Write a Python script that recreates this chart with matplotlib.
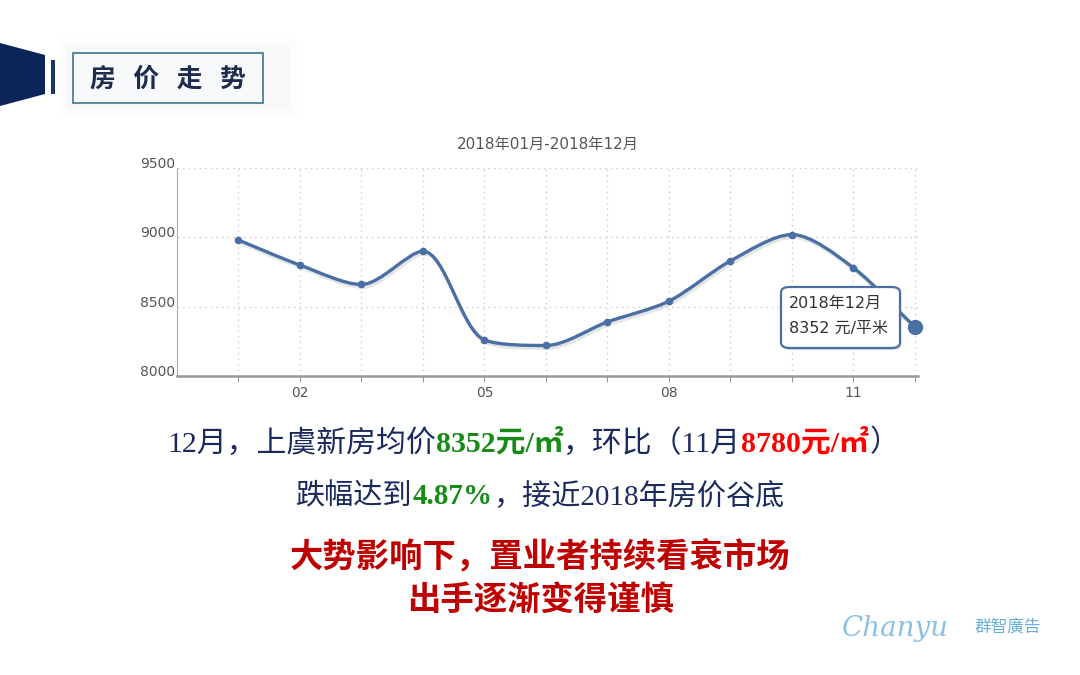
import matplotlib
matplotlib.use('Agg')
import matplotlib.pyplot as plt
import matplotlib.patheffects as pe
from matplotlib.path import Path
from matplotlib.patches import PathPatch, Polygon, Rectangle, FancyBboxPatch
from matplotlib.transforms import ScaledTranslation

plt.rcParams['font.family'] = ['Noto Sans CJK SC', 'DejaVu Sans']

# data
months = [1, 2, 3, 4, 5, 6, 7, 8, 9, 10, 11, 12]
prices = [8980, 8800, 8660, 8900, 8260, 8220, 8390, 8540, 8830, 9020, 8780, 8352]
tick_pos = [2, 5, 8, 11]
tick_labels = ['02', '05', '08', '11']
chart_title = '2018年01月-2018年12月'
tip_lines = ['2018年12月', '8352 元/平米']

W, H = 1080, 675
fig = plt.figure(figsize=(W / 100, H / 100), dpi=100)
fig.patch.set_facecolor('white')


def px(x, y):
    # pixel (top-left origin) -> figure fraction
    return x / W, 1 - y / H


LINE = '#4a6fa5'
NAVY = '#1b2a5c'
SANS = ['DejaVu Sans', 'Noto Sans CJK SC']

# header decoration (faint glow, wedge, bar, framed title)
for pad, col in [(14, '#fcfcfc'), (7, '#f8f8f9')]:
    fig.patches.append(Rectangle(px(73 - pad, 103 + pad), (190 + 2 * pad + 20) / W,
                                 (50 + 2 * pad) / H, transform=fig.transFigure,
                                 facecolor=col, edgecolor='none', zorder=0))
fig.patches.append(Polygon([px(0, 43), px(45, 55), px(45, 94), px(0, 106)], closed=True,
                           transform=fig.transFigure, facecolor='#0b2558', edgecolor='none'))
fig.patches.append(Rectangle(px(51, 94), 4 / W, 34 / H, transform=fig.transFigure,
                             facecolor='#1f3566', edgecolor='none'))
fig.patches.append(Rectangle(px(73, 103), 190 / W, 50 / H, transform=fig.transFigure,
                             facecolor='#f8f9fa', edgecolor='#2b6a86', lw=1.1))
fig.text(*px(168, 79), '房   价   走   势', ha='center', va='center', fontsize=18.5,
         fontweight='bold', color='#1c2b4e')

# chart
ax = fig.add_axes([177 / W, 1 - 376 / H, (918 - 177) / W, (376 - 168) / H])
ax.set_xlim(0, 12.05)
ax.set_ylim(8000, 9500)
ax.set_yticks([8000, 8500, 9000, 9500])
ax.set_xticks(months)
ax.set_xticklabels([tick_labels[tick_pos.index(m)] if m in tick_pos else '' for m in months])
ax.tick_params(axis='x', length=4, color='#999999', labelsize=10, labelcolor='#555555', pad=3)
ax.tick_params(axis='y', length=0, labelsize=10, labelcolor='#555555', pad=1)
for lab in ax.get_xticklabels() + ax.get_yticklabels():
    lab.set_family('DejaVu Sans')
for lab in ax.get_yticklabels():
    lab.set_transform(lab.get_transform() + ScaledTranslation(0, 4 / 72, fig.dpi_scale_trans))
ax.grid(True, linestyle=(0, (1, 3)), color='#c8c8c8', lw=1)
for s in ['top', 'right']:
    ax.spines[s].set_visible(False)
ax.spines['left'].set_color('#aaaaaa')
ax.spines['bottom'].set_color('#999999')
ax.spines['bottom'].set_linewidth(1.8)
ax.set_title(chart_title, fontsize=11, color='#555555', pad=14, family=SANS)

# smooth line through the points, bezier control points built in display space
disp = ax.transData.transform(list(zip(months, prices)))
smooth = 0.3
n = len(disp)
verts = [tuple(disp[0])]
codes = [Path.MOVETO]
cps = []
for i in range(n):
    x, y = disp[i]
    px_, py_ = disp[i - 1] if i > 0 else disp[i]
    nx_, ny_ = disp[i + 1] if i < n - 1 else disp[i]
    vx, vy = nx_ - px_, ny_ - py_
    lp = ((x - px_) ** 2 + (y - py_) ** 2) ** 0.5
    ln = ((nx_ - x) ** 2 + (ny_ - y) ** 2) ** 0.5
    r = ln / (ln + lp) if ln + lp else 0
    c1x = x + vx * smooth * r
    c1y = y + vy * smooth * r
    c1x = min(max(c1x, min(nx_, x)), max(nx_, x))
    c1y = min(max(c1y, min(ny_, y)), max(ny_, y))
    if ln and lp:
        c0x = x - (c1x - x) * lp / ln
        c0y = y - (c1y - y) * lp / ln
    else:
        c0x = x - vx * smooth * (1 - r)
        c0y = y - vy * smooth * (1 - r)
    c0x = min(max(c0x, min(px_, x)), max(px_, x))
    c0y = min(max(c0y, min(py_, y)), max(py_, y))
    if ln and lp:
        c1x = x + (x - c0x) * ln / lp
        c1y = y + (y - c0y) * ln / lp
    cps.append(((c0x, c0y), (c1x, c1y)))
for i in range(n - 1):
    verts += [cps[i][1], cps[i + 1][0], tuple(disp[i + 1])]
    codes += [Path.CURVE4] * 3
data_verts = ax.transData.inverted().transform(verts)
curve = PathPatch(Path(data_verts, codes), facecolor='none', edgecolor=LINE, lw=2.4, zorder=3,
                  path_effects=[pe.SimpleLineShadow(offset=(1, -2), alpha=0.15, shadow_color='#555555'),
                                pe.Normal()])
ax.add_patch(curve)
ax.plot(months[:-1], prices[:-1], 'o', color=LINE, ms=4.5, zorder=4)
ax.plot(months[-1:], prices[-1:], 'o', color=LINE, ms=10, zorder=4, clip_on=False)

# tooltip
fig.patches.append(FancyBboxPatch(px(781, 348), 119 / W, 61 / H, transform=fig.transFigure,
                                  boxstyle='round,pad=0,rounding_size=0.008',
                                  facecolor='white', edgecolor=LINE, lw=1.6, zorder=5,
                                  path_effects=[pe.SimplePatchShadow(offset=(1, -1.5), alpha=0.2),
                                                pe.Normal()]))
fig.text(*px(789, 303), tip_lines[0], fontsize=11.5, color='#333333', va='center', zorder=6,
         family=SANS)
fig.text(*px(789, 328), tip_lines[1], fontsize=11.5, color='#333333', va='center', zorder=6,
         family=SANS)

# rich text lines below chart
renderer = fig.canvas.get_renderer()
SERIF = ['Liberation Serif', 'Noto Sans CJK SC']


def rich_line(y, parts, size, family, cx=540):
    texts = []
    for s, color, weight in parts:
        t = fig.text(0, 1 - y / H, s, fontsize=size, color=color, fontweight=weight,
                     family=family, va='center', ha='left')
        texts.append(t)
    widths = [t.get_window_extent(renderer).width for t in texts]
    x = cx - sum(widths) / 2
    for t, w in zip(texts, widths):
        t.set_x(x / W)
        x += w


GREEN = '#178a17'
RED = '#ff0000'
rich_line(443, [('12月，上虞新房均价', NAVY, 'normal'), ('8352元/㎡', GREEN, 'bold'),
                ('，环比（11月', NAVY, 'normal'), ('8780元/㎡', RED, 'bold'),
                ('）', NAVY, 'normal')], 21.5, SERIF, cx=533)
rich_line(497, [('跌幅达到', NAVY, 'normal'), ('4.87%', GREEN, 'bold'),
                ('，接近2018年房价谷底', NAVY, 'normal')], 21, SERIF)
fig.text(*px(540, 557), '大势影响下，置业者持续看衰市场', ha='center', va='center',
         fontsize=24, fontweight='bold', color='#c00000')
fig.text(*px(541, 600), '出手逐渐变得谨慎', ha='center', va='center',
         fontsize=24, fontweight='bold', color='#c00000')

# logo
fig.text(*px(842, 628), 'Chanyu', fontsize=20, style='italic', family='DejaVu Serif',
         color='#8cc0e4', va='center', ha='left')
fig.text(*px(1008, 628), '群智廣告', fontsize=12, color='#6aaedc', va='center', ha='center')

fig.savefig('out.png', dpi=100)
